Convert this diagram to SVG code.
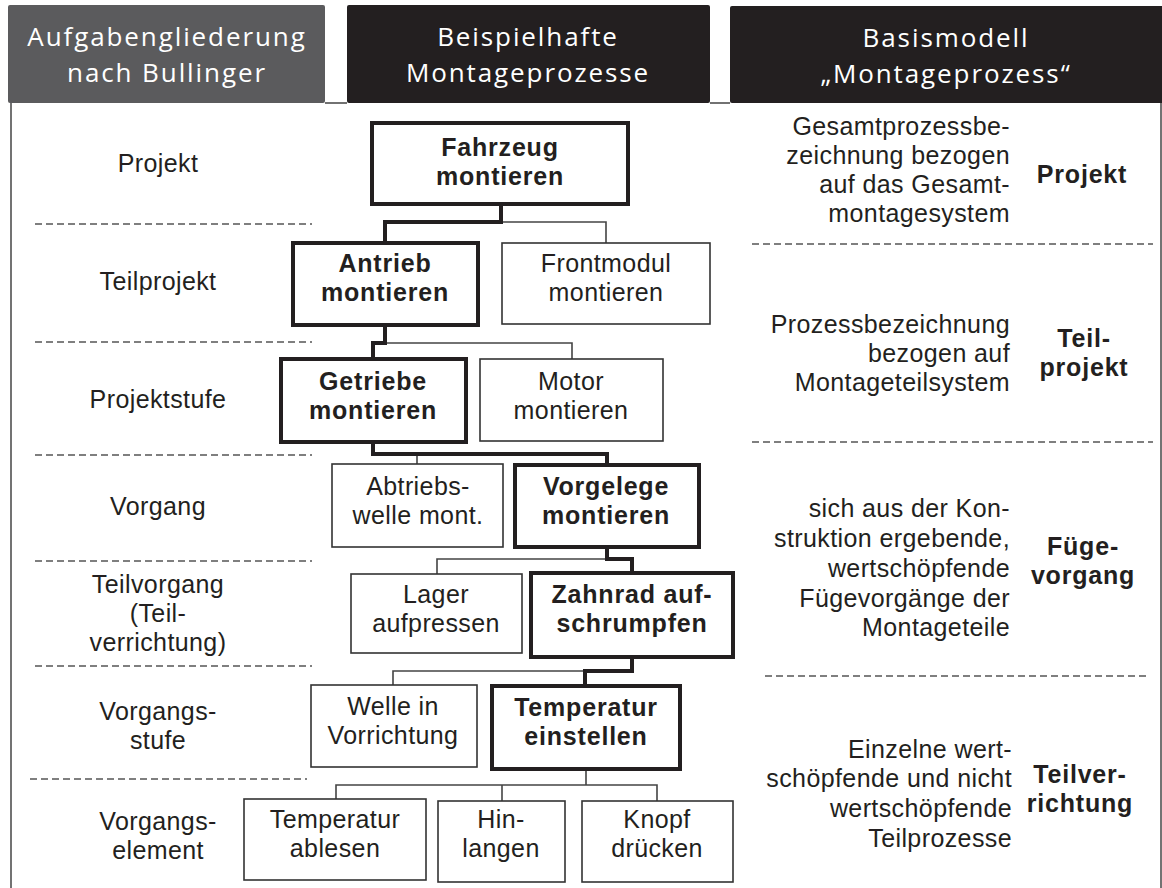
<svg xmlns="http://www.w3.org/2000/svg" width="1162" height="888" viewBox="0 0 1162 888">
  <style>
    .hdr { fill: #231f20; }
    .hdr-grey { fill: #5b5b5d; }
    .htxt { font-family: "Open Sans", "Liberation Sans", sans-serif; font-size: 26px; fill: #ffffff; text-anchor: middle; letter-spacing: 1.9px; }
    .txt { font-family: "Liberation Sans", Arial, sans-serif; font-size: 25px; fill: #231f20; letter-spacing: 0.4px; }
    .mid { text-anchor: middle; }
    .end { text-anchor: end; }
    .b { font-weight: bold; letter-spacing: 0.8px; }
    .box { fill: #ffffff; stroke: #333333; stroke-width: 1.6; }
    .box-main { fill: #ffffff; stroke: #231f20; stroke-width: 4; }
    .frame { fill: none; stroke: #444444; stroke-width: 1.5; }
    .dash { fill: none; stroke: #555555; stroke-width: 1.5; stroke-dasharray: 7 4; }
    .thick { fill: none; stroke: #231f20; stroke-width: 4; stroke-linejoin: miter; }
    .thin { fill: none; stroke: #444444; stroke-width: 1.6; }
  </style>

  <rect width="1162" height="888" fill="#ffffff"/>

  <!-- column headers -->
  <g id="header-left">
    <rect class="hdr-grey" x="8" y="5" width="317" height="98" rx="2"/>
    <text class="htxt"><tspan x="167" y="46">Aufgabengliederung</tspan><tspan x="167" y="82">nach Bullinger</tspan></text>
  </g>
  <g id="header-mid">
    <rect class="hdr" x="347" y="5" width="363" height="98" rx="2"/>
    <text class="htxt"><tspan x="528" y="46">Beispielhafte</tspan><tspan x="528" y="82">Montageprozesse</tspan></text>
  </g>
  <g id="header-right">
    <rect class="hdr" x="730" y="6" width="440" height="97" rx="2"/>
    <text class="htxt"><tspan x="946" y="47">Basismodell</tspan><tspan x="946" y="83">„Montageprozess“</tspan></text>
  </g>

  <!-- outer frame -->
  <g id="frame">
    <path class="frame" d="M11,103 V888"/>
    <path class="frame" d="M1161,103 V888" stroke="#999999"/>
    <path class="frame" d="M325,103 H347 M710,103 H730"/>
  </g>

  <!-- level separators -->
  <g id="separators">
    <path class="dash" d="M35,224 H312 M35,342 H312 M35,455 H312 M35,561 H312 M35,666 H312 M30,779 H307"/>
    <path class="dash" d="M752,244 H1153 M752,442 H1153 M765,676 H1146"/>
  </g>

  <!-- level names (Bullinger) -->
  <g id="levels-left" class="txt mid">
    <text x="158" y="172">Projekt</text>
    <text x="158" y="290">Teilprojekt</text>
    <text x="158" y="408">Projektstufe</text>
    <text x="158" y="515">Vorgang</text>
    <text><tspan x="158" y="593">Teilvorgang</tspan><tspan x="158" y="622">(Teil-</tspan><tspan x="158" y="651">verrichtung)</tspan></text>
    <text><tspan x="158" y="720">Vorgangs-</tspan><tspan x="158" y="749">stufe</tspan></text>
    <text><tspan x="158" y="830">Vorgangs-</tspan><tspan x="158" y="859">element</tspan></text>
  </g>

  <!-- connectors -->
  <g id="connectors">
    <path class="thin" d="M501,222 H606 V243"/>
    <path class="thin" d="M385,343 H572 V359"/>
    <path class="thin" d="M417,454 V464"/>
    <path class="thin" d="M607,559 H437 V574"/>
    <path class="thin" d="M585,671 H393 V685"/>
    <path class="thin" d="M586,769 V785 M336,799 V785 H657 V801"/>
    <path class="thin" d="M502,785 V801" stroke="#888888"/>
    <path class="thick" d="M501,204 V222 H385 V243"/>
    <path class="thick" d="M385,325 V343 H373 V359"/>
    <path class="thick" d="M373,442 V454 H607 V465"/>
    <path class="thick" d="M607,547 V559 H632 V573"/>
    <path class="thick" d="M632,657 V671 H585 V686"/>
  </g>

  <!-- process nodes -->
  <g id="fahrzeug">
    <rect class="box-main" x="372" y="123" width="256" height="81"/>
    <text class="txt mid b"><tspan x="500" y="156">Fahrzeug</tspan><tspan x="500" y="185">montieren</tspan></text>
  </g>
  <g id="antrieb">
    <rect class="box-main" x="293" y="243" width="185" height="82"/>
    <text class="txt mid b"><tspan x="385" y="272">Antrieb</tspan><tspan x="385" y="301">montieren</tspan></text>
  </g>
  <g id="frontmodul">
    <rect class="box" x="502" y="243" width="208" height="81"/>
    <text class="txt mid"><tspan x="606" y="272">Frontmodul</tspan><tspan x="606" y="301">montieren</tspan></text>
  </g>
  <g id="getriebe">
    <rect class="box-main" x="281" y="359" width="185" height="83"/>
    <text class="txt mid b"><tspan x="373" y="390">Getriebe</tspan><tspan x="373" y="419">montieren</tspan></text>
  </g>
  <g id="motor">
    <rect class="box" x="480" y="359" width="183" height="82"/>
    <text class="txt mid"><tspan x="571" y="390">Motor</tspan><tspan x="571" y="419">montieren</tspan></text>
  </g>
  <g id="abtriebswelle">
    <rect class="box" x="332" y="464" width="171" height="83"/>
    <text class="txt mid"><tspan x="418" y="495">Abtriebs-</tspan><tspan x="418" y="524">welle mont.</tspan></text>
  </g>
  <g id="vorgelege">
    <rect class="box-main" x="515" y="465" width="184" height="82"/>
    <text class="txt mid b"><tspan x="606" y="495">Vorgelege</tspan><tspan x="606" y="524">montieren</tspan></text>
  </g>
  <g id="lager">
    <rect class="box" x="351" y="574" width="171" height="79"/>
    <text class="txt mid"><tspan x="436" y="603">Lager</tspan><tspan x="436" y="632">aufpressen</tspan></text>
  </g>
  <g id="zahnrad">
    <rect class="box-main" x="531" y="573" width="202" height="84"/>
    <text class="txt mid b"><tspan x="632" y="603">Zahnrad auf-</tspan><tspan x="632" y="632">schrumpfen</tspan></text>
  </g>
  <g id="welle">
    <rect class="box" x="311" y="685" width="166" height="82"/>
    <text class="txt mid"><tspan x="393" y="715">Welle in</tspan><tspan x="393" y="744">Vorrichtung</tspan></text>
  </g>
  <g id="temperatur-einstellen">
    <rect class="box-main" x="492" y="686" width="188" height="83"/>
    <text class="txt mid b"><tspan x="586" y="716">Temperatur</tspan><tspan x="586" y="745">einstellen</tspan></text>
  </g>
  <g id="temperatur-ablesen">
    <rect class="box" x="244" y="799" width="182" height="81"/>
    <text class="txt mid"><tspan x="335" y="828">Temperatur</tspan><tspan x="335" y="857">ablesen</tspan></text>
  </g>
  <g id="hinlangen">
    <rect class="box" x="438" y="801" width="127" height="81"/>
    <text class="txt mid"><tspan x="501" y="828">Hin-</tspan><tspan x="501" y="857">langen</tspan></text>
  </g>
  <g id="knopf">
    <rect class="box" x="582" y="801" width="151" height="81"/>
    <text class="txt mid"><tspan x="657" y="828">Knopf</tspan><tspan x="657" y="857">drücken</tspan></text>
  </g>

  <!-- base model descriptions -->
  <g id="model-projekt">
    <text class="txt end"><tspan x="1010" y="135">Gesamtprozessbe-</tspan><tspan x="1010" y="164">zeichnung bezogen</tspan><tspan x="1010" y="193">auf das Gesamt-</tspan><tspan x="1010" y="222">montagesystem</tspan></text>
    <text class="txt mid b" x="1082" y="183">Projekt</text>
  </g>
  <g id="model-teilprojekt">
    <text class="txt end"><tspan x="1010" y="333">Prozessbezeichnung</tspan><tspan x="1010" y="362">bezogen auf</tspan><tspan x="1010" y="391">Montageteilsystem</tspan></text>
    <text class="txt mid b"><tspan x="1084" y="347">Teil-</tspan><tspan x="1084" y="376">projekt</tspan></text>
  </g>
  <g id="model-fuegevorgang">
    <text class="txt end"><tspan x="1010" y="517">sich aus der Kon-</tspan><tspan x="1010" y="547">struktion ergebende,</tspan><tspan x="1010" y="577">wertschöpfende</tspan><tspan x="1010" y="607">Fügevorgänge der</tspan><tspan x="1010" y="636">Montageteile</tspan></text>
    <text class="txt mid b"><tspan x="1083" y="555">Füge-</tspan><tspan x="1083" y="584">vorgang</tspan></text>
  </g>
  <g id="model-teilverrichtung">
    <text class="txt end"><tspan x="1012" y="758">Einzelne wert-</tspan><tspan x="1012" y="787">schöpfende und nicht</tspan><tspan x="1012" y="817">wertschöpfende</tspan><tspan x="1012" y="847">Teilprozesse</tspan></text>
    <text class="txt mid b"><tspan x="1080" y="783">Teilver-</tspan><tspan x="1080" y="812">richtung</tspan></text>
  </g>
</svg>
